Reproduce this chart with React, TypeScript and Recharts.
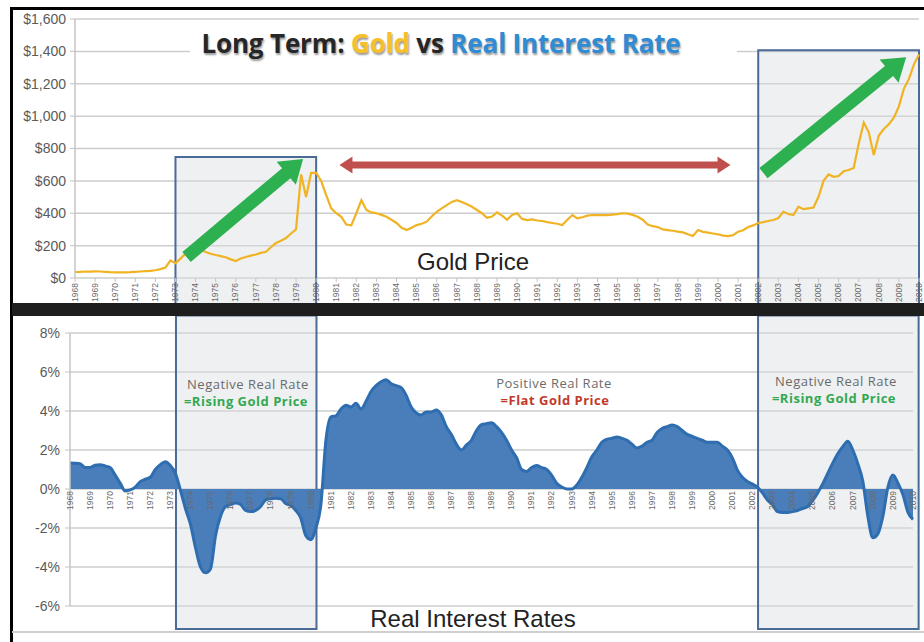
import React from 'react'
import {
  ComposedChart,
  Line,
  Area,
  XAxis,
  YAxis,
  CartesianGrid,
  ReferenceArea,
  ReferenceLine,
} from 'recharts'

// tick labels
const YEARS = [
  1968, 1969, 1970, 1971, 1972, 1973, 1974, 1975, 1976, 1977, 1978, 1979, 1980, 1981, 1982,
  1983, 1984, 1985, 1986, 1987, 1988, 1989, 1990, 1991, 1992, 1993, 1994, 1995, 1996, 1997,
  1998, 1999, 2000, 2001, 2002, 2003, 2004, 2005, 2006, 2007, 2008, 2009, 2010,
]
const GOLD_TICKS = [0, 200, 400, 600, 800, 1000, 1200, 1400, 1600]
const RATE_TICKS = [-6, -4, -2, 0, 2, 4, 6, 8]

// gold price, USD/oz, quarterly from 1968 Q1
const GOLD_PRICE = [
  37, 38, 40, 40, 41, 40, 38, 36, 35, 35, 35, 36, 38, 40, 42, 44,
  48, 55, 64, 108, 92, 120, 150, 170, 185, 175, 160, 150, 142, 135, 128, 115,
  105, 120, 130, 138, 145, 155, 162, 190, 216, 230, 247, 275, 300, 640, 500, 650,
  650, 600, 512, 430, 400, 378, 330, 325, 400, 481, 420, 405, 400, 390, 378, 360,
  340, 310, 296, 310, 327, 335, 348, 380, 409, 430, 450, 470, 481, 470, 455, 440,
  420, 400, 372, 380, 405, 385, 360, 390, 400, 365, 358, 362, 355, 352, 345, 340,
  335, 327, 360, 389, 368, 375, 385, 389, 389, 388, 389, 392, 395, 400, 398, 390,
  378, 360, 330, 320, 315, 300, 296, 292, 286, 282, 270, 260, 296, 285, 280, 275,
  270, 262, 259, 265, 286, 295, 315, 325, 340, 345, 352, 358, 370, 409, 395, 389,
  440, 425, 430, 435, 502, 600, 640, 625, 630, 660, 667, 680, 830, 960, 900, 760,
  880, 920, 950, 990, 1060, 1170, 1230, 1320, 1380,
]

// real interest rate, %, quarterly from 1968 Q1
const REAL_RATE = [
  1.33, 1.32, 1.3, 1.1, 1.1, 1.22, 1.25, 1.18, 1.1, 0.72, 0.3, -0.1, -0.05, 0.1, 0.38, 0.5,
  0.6, 1.0, 1.25, 1.4, 1.2, 0.8, -0.05, -1.0, -1.8, -3.0, -4.0, -4.3, -4.1, -2.4, -1.4, -0.9,
  -0.8, -0.72, -0.8, -1.1, -1.16, -1.1, -0.9, -0.56, -0.5, -0.48, -0.5, -0.75, -0.85, -1.1, -1.5, -2.4,
  -2.6, -2.0, -0.8, 2.5, 3.7, 3.75, 4.1, 4.3, 4.2, 4.4, 4.1, 4.5, 5.0, 5.3, 5.5, 5.6,
  5.4, 5.3, 5.2, 4.8, 4.2, 3.9, 3.8, 3.95, 3.95, 4.05, 3.8, 3.2, 2.8, 2.3, 2.0, 2.25,
  2.5, 3.0, 3.3, 3.35, 3.4, 3.2, 2.9, 2.5, 2.0, 1.6, 1.0, 0.9, 1.1, 1.2, 1.1, 1.0,
  0.7, 0.3, 0.1, 0.0, 0.0, 0.2, 0.6, 1.1, 1.65, 2.0, 2.4, 2.55, 2.6, 2.67, 2.6, 2.5,
  2.3, 2.1, 2.2, 2.4, 2.5, 2.9, 3.1, 3.2, 3.28, 3.2, 3.0, 2.8, 2.7, 2.6, 2.5, 2.4,
  2.4, 2.4, 2.2, 2.0, 1.6, 0.97, 0.6, 0.38, 0.25, 0.1, -0.2, -0.56, -0.8, -1.16, -1.2, -1.2,
  -1.16, -1.1, -1.0, -0.9, -0.6, -0.2, 0.26, 0.8, 1.33, 1.8, 2.17, 2.45, 2.0, 1.3, 0.4, -1.4,
  -2.5, -2.3, -1.4, 0.1, 0.72, 0.3, -0.3, -1.2, -1.56,
]

// negative real rate periods (start year, end year)
const NEGATIVE_PERIODS = [
  [1973, 1980],
  [2002, 2010],
]

const goldData = GOLD_PRICE.map((v, i) => ({ t: 1968 + i / 4, gold: v }))
const rateData = REAL_RATE.map((v, i) => ({ t: 1968 + i / 4, rate: v }))

const AXIS_FONT = 'Liberation Sans, Arial, sans-serif'
const NOTE_FONT = '"Open Sans", sans-serif'
const BOX_STROKE = '#4a6a98'
const BOX_FILL = '#d9dde1'
// the boxes are drawn across both panels, so in the lower panel they sit a bit to the right
const LOWER_BOX_SHIFT = 0.28

const YearTick = ({ x, y, payload, lift = 0 }: any) => {
  const ty = y - lift
  return (
    <text
      x={x}
      y={ty}
      transform={`rotate(-90 ${x} ${ty})`}
      textAnchor="end"
      dy="0.32em"
      fontSize={8.5}
      fill="#6a6a6a"
      fontFamily={AXIS_FONT}
    >
      {payload.value}
    </text>
  )
}

// arrow polygon drawn along a reference segment
const arrowShape = (color: string, shaft: number, headW: number, headL: number, double = false) =>
  (props: any) => {
    const { x1, y1, x2, y2 } = props
    const dx = x2 - x1
    const dy = y2 - y1
    const len = Math.hypot(dx, dy)
    const ux = dx / len
    const uy = dy / len
    const at = (d: number, n: number) => `${x1 + ux * d - uy * n},${y1 + uy * d + ux * n}`
    const pts = double
      ? [
          at(0, 0), at(headL, headW / 2), at(headL, shaft / 2), at(len - headL, shaft / 2),
          at(len - headL, headW / 2), at(len, 0), at(len - headL, -headW / 2),
          at(len - headL, -shaft / 2), at(headL, -shaft / 2), at(headL, -headW / 2),
        ]
      : [
          at(0, shaft / 2), at(len - headL, shaft / 2), at(len - headL, headW / 2), at(len, 0),
          at(len - headL, -headW / 2), at(len - headL, -shaft / 2), at(0, -shaft / 2),
        ]
    return <polygon points={pts.join(' ')} fill={color} />
  }

const Note = ({ cx, base, size, color, bold, spacing = 0, children }: any) => (
  <div
    style={{
      position: 'absolute',
      left: cx - 120,
      width: 240,
      top: base - size * 0.888,
      textAlign: 'center',
      fontFamily: NOTE_FONT,
      fontSize: size,
      lineHeight: `${size}px`,
      fontWeight: bold ? 700 : 400,
      letterSpacing: spacing,
      color,
      whiteSpace: 'nowrap',
    }}
  >
    {children}
  </div>
)

export default function App() {
  return (
    <div
      style={{
        position: 'absolute',
        left: 0,
        top: 0,
        width: 924,
        height: 642,
        background: '#fff',
        overflow: 'hidden',
      }}
    >
      {/* gold price */}
      <div style={{ position: 'absolute', left: 0, top: 0 }}>
        <ComposedChart width={924} height={304} data={goldData} margin={{ top: 19, right: 5, left: 0, bottom: 0 }}>
          <CartesianGrid vertical={false} stroke="#cdcdcd" strokeWidth={1.5} />
          <ReferenceArea x1={NEGATIVE_PERIODS[0][0]} x2={NEGATIVE_PERIODS[0][1]} y1={-160} y2={747} ifOverflow="visible" fill={BOX_FILL} fillOpacity={0.45} stroke={BOX_STROKE} strokeWidth={2} />
          <ReferenceArea x1={NEGATIVE_PERIODS[1][0]} x2={NEGATIVE_PERIODS[1][1]} y1={-160} y2={1407} ifOverflow="visible" fill={BOX_FILL} fillOpacity={0.45} stroke={BOX_STROKE} strokeWidth={2} />
          <XAxis
            dataKey="t"
            type="number"
            domain={[1968, 2010]}
            ticks={YEARS}
            interval={0}
            height={26}
            tickSize={4}
            tickMargin={1}
            axisLine={false}
            tickLine={{ stroke: '#c4c4c4' }}
            tick={(p: any) => <YearTick {...p} />}
          />
          <YAxis
            domain={[0, 1600]}
            ticks={GOLD_TICKS}
            width={75}
            tickSize={5}
            tickMargin={4}
            axisLine={{ stroke: '#c4c4c4', strokeWidth: 1.5 }}
            tickLine={{ stroke: '#c4c4c4' }}
            tick={{ fontSize: 14, fill: '#5a5a5a', fontFamily: AXIS_FONT }}
            tickFormatter={(v: number) => `$${v.toLocaleString('en-US')}`}
          />
          <Line dataKey="gold" type="linear" stroke="#f0b323" strokeWidth={2.2} dot={false} isAnimationActive={false} />
          <ReferenceLine segment={[{ x: 1973.55, y: 130 }, { x: 1979.35, y: 735 }]} shape={arrowShape('#2db04f', 13, 30, 22)} />
          <ReferenceLine segment={[{ x: 2002.26, y: 648 }, { x: 2009.36, y: 1364 }]} shape={arrowShape('#2db04f', 13, 30, 22)} />
          <ReferenceLine segment={[{ x: 1981.16, y: 698 }, { x: 2000.62, y: 698 }]} shape={arrowShape('#c0504d', 7, 17, 13, true)} />
        </ComposedChart>
      </div>

      {/* real interest rate */}
      <div style={{ position: 'absolute', left: 0, top: 316 }}>
        <ComposedChart width={924} height={326} data={rateData} margin={{ top: 17, right: 11, left: 0, bottom: 0 }}>
          <CartesianGrid vertical={false} stroke="#cdcdcd" strokeWidth={1.5} />
          {NEGATIVE_PERIODS.map(([a, b]) => (
            <ReferenceArea key={a} x1={a + LOWER_BOX_SHIFT} x2={b + LOWER_BOX_SHIFT} y1={-7.18} y2={8.9} ifOverflow="visible" fill={BOX_FILL} fillOpacity={0.45} stroke={BOX_STROKE} strokeWidth={2} />
          ))}
          <XAxis
            dataKey="t"
            type="number"
            domain={[1968, 2010]}
            ticks={YEARS}
            interval={0}
            height={36}
            tickSize={0}
            tickMargin={0}
            axisLine={false}
            tickLine={false}
            tick={(p: any) => <YearTick {...p} lift={115} />}
          />
          <YAxis
            domain={[-6, 8]}
            ticks={RATE_TICKS}
            width={70}
            tickSize={5}
            tickMargin={5}
            axisLine={{ stroke: '#c4c4c4', strokeWidth: 1.5 }}
            tickLine={{ stroke: '#c4c4c4' }}
            tick={{ fontSize: 14, fill: '#5a5a5a', fontFamily: AXIS_FONT }}
            tickFormatter={(v: number) => `${v}%`}
          />
          <Area
            dataKey="rate"
            type="monotone"
            baseValue={0}
            stroke="#2d6db0"
            strokeWidth={3}
            fill="#4a7ebb"
            fillOpacity={1}
            dot={false}
            isAnimationActive={false}
          />
        </ComposedChart>
      </div>

      {/* frame */}
      <div style={{ position: 'absolute', left: 10, top: 7, width: 914, height: 3, background: '#000' }} />
      <div style={{ position: 'absolute', left: 10, top: 7, width: 3, height: 635, background: '#000' }} />
      <div style={{ position: 'absolute', left: 12, top: 303, width: 912, height: 13, background: '#1e1e1e' }} />
      <div style={{ position: 'absolute', left: 12, top: 631, width: 912, height: 2, background: '#cfcfcf' }} />

      {/* title */}
      <div style={{ position: 'absolute', left: 190, top: 28, width: 547, height: 34, background: '#fff' }} />
      <div
        style={{
          position: 'absolute',
          left: 141,
          top: 26,
          width: 600,
          textAlign: 'center',
          fontFamily: NOTE_FONT,
          fontWeight: 700,
          fontSize: 26,
          lineHeight: '34px',
          letterSpacing: -0.15,
          color: '#262626',
          textShadow: '1px 2px 2px rgba(0,0,0,0.4)',
          whiteSpace: 'nowrap',
        }}
      >
        Long Term: <span style={{ color: '#f5c02a' }}>Gold</span> vs{' '}
        <span style={{ color: '#2f8bd6' }}>Real Interest Rate</span>
      </div>

      <div style={{ position: 'absolute', left: 373, width: 200, top: 250, textAlign: 'center', fontFamily: AXIS_FONT, fontSize: 24, lineHeight: '24px', color: '#222' }}>
        Gold Price
      </div>
      <div style={{ position: 'absolute', left: 323, width: 300, top: 607, textAlign: 'center', fontFamily: AXIS_FONT, fontSize: 24, lineHeight: '24px', color: '#222' }}>
        Real Interest Rates
      </div>

      <Note cx={248} base={390} size={13} color="#6b6b6b" spacing={0.5}>Negative Real Rate</Note>
      <Note cx={246} base={407} size={13} color="#33a852" bold spacing={0.5}>=Rising Gold Price</Note>
      <Note cx={554} base={389} size={13} color="#6b6b6b" spacing={0.5}>Positive Real Rate</Note>
      <Note cx={555} base={406} size={13} color="#c0392b" bold spacing={0.5}>=Flat Gold Price</Note>
      <Note cx={836} base={387} size={13} color="#6b6b6b" spacing={0.5}>Negative Real Rate</Note>
      <Note cx={834} base={404} size={13} color="#33a852" bold spacing={0.5}>=Rising Gold Price</Note>
    </div>
  )
}
